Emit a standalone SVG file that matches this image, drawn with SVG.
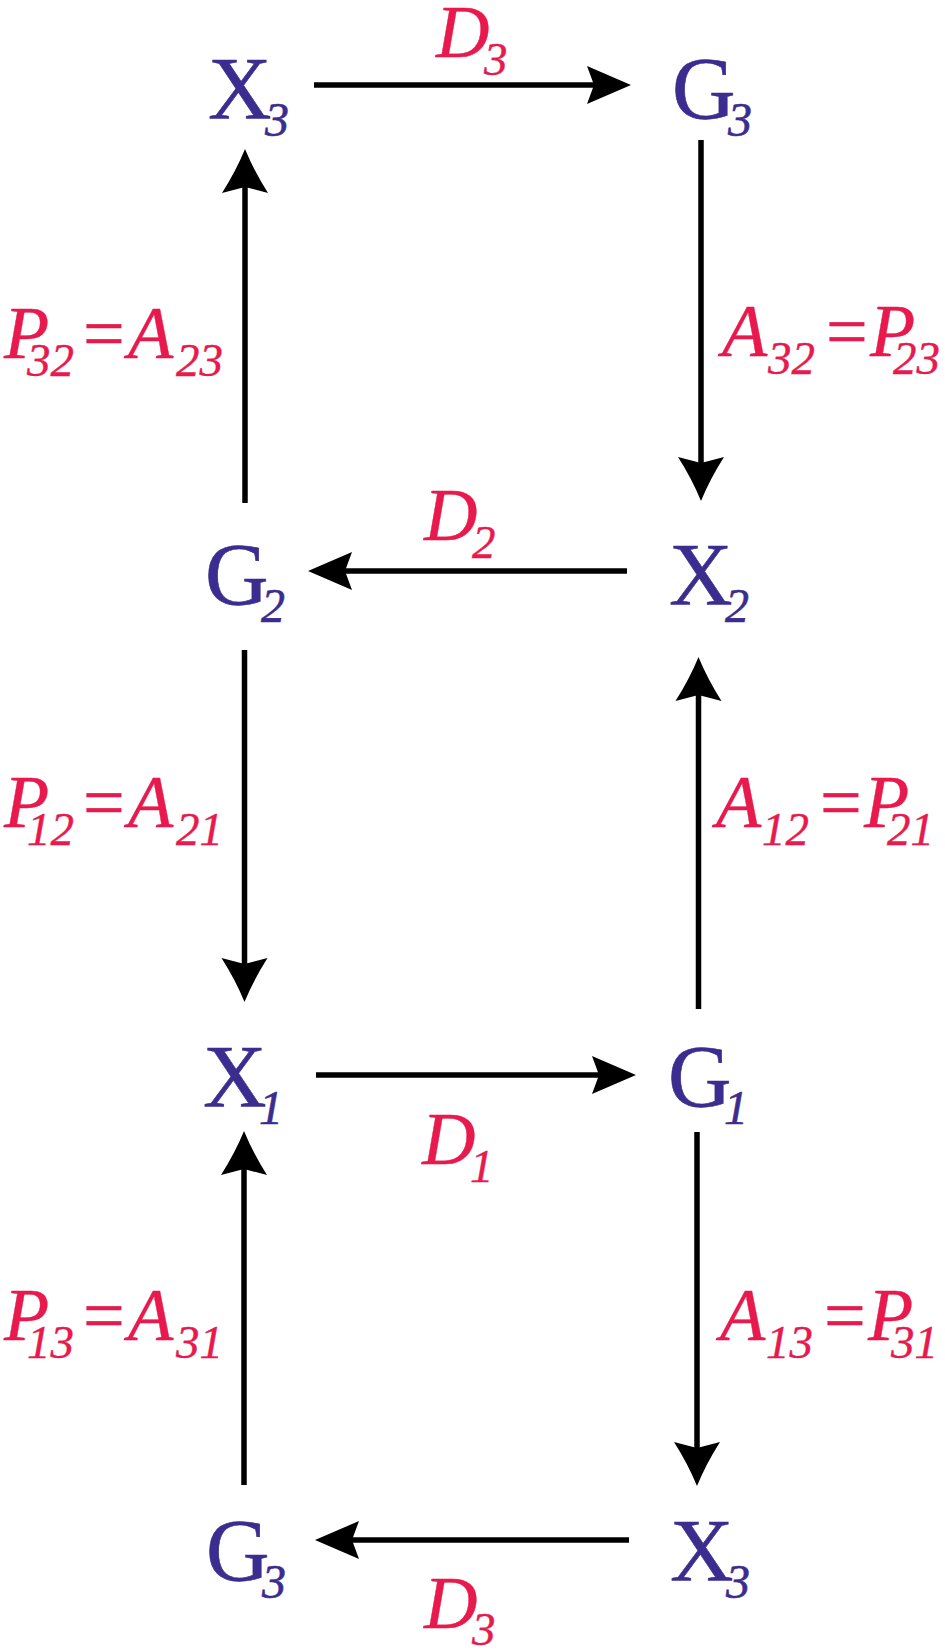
<svg xmlns="http://www.w3.org/2000/svg" width="945" height="1652" viewBox="0 0 945 1652">
<style>
.n{font-family:"Liberation Serif","Times New Roman",serif;font-size:88px;fill:#3b2d8f;stroke:#3b2d8f;stroke-width:0.6}
.l{font-family:"Liberation Serif","Times New Roman",serif;font-size:74px;fill:#e8194d;stroke:#e8194d;stroke-width:0.4;font-style:italic}
.s{font-style:italic;font-size:48px}
.t{font-style:italic;font-size:47px}
.u{font-style:normal}
.c{stroke:#000;stroke-width:5.5;fill:none}
.h{marker-end:url(#ah)}
.v{marker-end:url(#av)}
</style>
<defs>
<marker id="ah" markerUnits="userSpaceOnUse" viewBox="-8 -20 46 40" refX="0" refY="0" markerWidth="46" markerHeight="40" orient="auto" overflow="visible">
<path d="M37,0 L-7,-19 L0,0 L-7,19 Z" fill="#000"/>
</marker>
<marker id="av" markerUnits="userSpaceOnUse" viewBox="-8 -25 46 50" refX="0" refY="0" markerWidth="46" markerHeight="50" orient="auto" overflow="visible">
<path d="M38,0 Q16,-9 -6,-23 L0,0 L-6,23 Q16,9 38,0 Z" fill="#000"/>
</marker>
</defs>
<g id="connectors">
<line class="c h" x1="314" y1="85" x2="594" y2="85"/>
<line class="c v" x1="701" y1="140" x2="701" y2="463"/>
<line class="c v" x1="245" y1="503" x2="245" y2="187"/>
<line class="c h" x1="627" y1="571" x2="345" y2="571"/>
<line class="c v" x1="244.5" y1="650" x2="244.5" y2="964"/>
<line class="c v" x1="698.5" y1="1009" x2="698.5" y2="695"/>
<line class="c h" x1="316" y1="1075" x2="599" y2="1075"/>
<line class="c v" x1="244" y1="1485" x2="244" y2="1169"/>
<line class="c v" x1="697" y1="1132" x2="697" y2="1448"/>
<line class="c h" x1="629" y1="1540" x2="352" y2="1540"/>
</g>
<g id="label-D3-top"><text class="l" x="436" y="57">D<tspan class="t" x="484" y="75">3</tspan></text></g>
<g id="label-D2"><text class="l" x="424" y="540">D<tspan class="t" x="472" y="558">2</tspan></text></g>
<g id="label-D1"><text class="l" x="422" y="1164">D<tspan class="t" x="470" y="1182">1</tspan></text></g>
<g id="label-D3-bottom"><text class="l" x="424" y="1628">D<tspan class="t" x="472" y="1645">3</tspan></text></g>
<g id="label-P32-A23"><text class="l" y="358"><tspan x="4">P</tspan><tspan class="t" x="27" y="376">32</tspan><tspan class="u" x="83" y="358">=</tspan><tspan x="128">A</tspan><tspan class="t" x="176" y="376">23</tspan></text></g>
<g id="label-A32-P23"><text class="l" y="356"><tspan x="722">A</tspan><tspan class="t" x="768" y="374">32</tspan><tspan class="u" x="826" y="356">=</tspan><tspan x="870">P</tspan><tspan class="t" x="893" y="374">23</tspan></text></g>
<g id="label-P12-A21"><text class="l" y="827"><tspan x="4">P</tspan><tspan class="t" x="27" y="845">12</tspan><tspan class="u" x="83" y="827">=</tspan><tspan x="128">A</tspan><tspan class="t" x="176" y="845">21</tspan></text></g>
<g id="label-A12-P21"><text class="l" y="827"><tspan x="716">A</tspan><tspan class="t" x="762" y="845">12</tspan><tspan class="u" x="820" y="827">=</tspan><tspan x="864">P</tspan><tspan class="t" x="887" y="845">21</tspan></text></g>
<g id="label-P13-A31"><text class="l" y="1340"><tspan x="4">P</tspan><tspan class="t" x="27" y="1358">13</tspan><tspan class="u" x="83" y="1340">=</tspan><tspan x="128">A</tspan><tspan class="t" x="176" y="1358">31</tspan></text></g>
<g id="label-A13-P31"><text class="l" y="1340"><tspan x="720">A</tspan><tspan class="t" x="766" y="1358">13</tspan><tspan class="u" x="824" y="1340">=</tspan><tspan x="868">P</tspan><tspan class="t" x="891" y="1358">31</tspan></text></g>
<g id="node-X3-top"><text class="n" x="208" y="118">X<tspan class="s" x="265" y="136">3</tspan></text></g>
<g id="node-G3-top"><text class="n" x="672" y="118">G<tspan class="s" x="728" y="136">3</tspan></text></g>
<g id="node-G2"><text class="n" x="205" y="604">G<tspan class="s" x="261" y="622">2</tspan></text></g>
<g id="node-X2"><text class="n" x="669" y="604">X<tspan class="s" x="725" y="622">2</tspan></text></g>
<g id="node-X1"><text class="n" x="203" y="1106">X<tspan class="s" x="259" y="1124">1</tspan></text></g>
<g id="node-G1"><text class="n" x="668" y="1106">G<tspan class="s" x="724" y="1124">1</tspan></text></g>
<g id="node-G3-bottom"><text class="n" x="206" y="1580">G<tspan class="s" x="262" y="1598">3</tspan></text></g>
<g id="node-X3-bottom"><text class="n" x="670" y="1580">X<tspan class="s" x="726" y="1598">3</tspan></text></g>
</svg>
